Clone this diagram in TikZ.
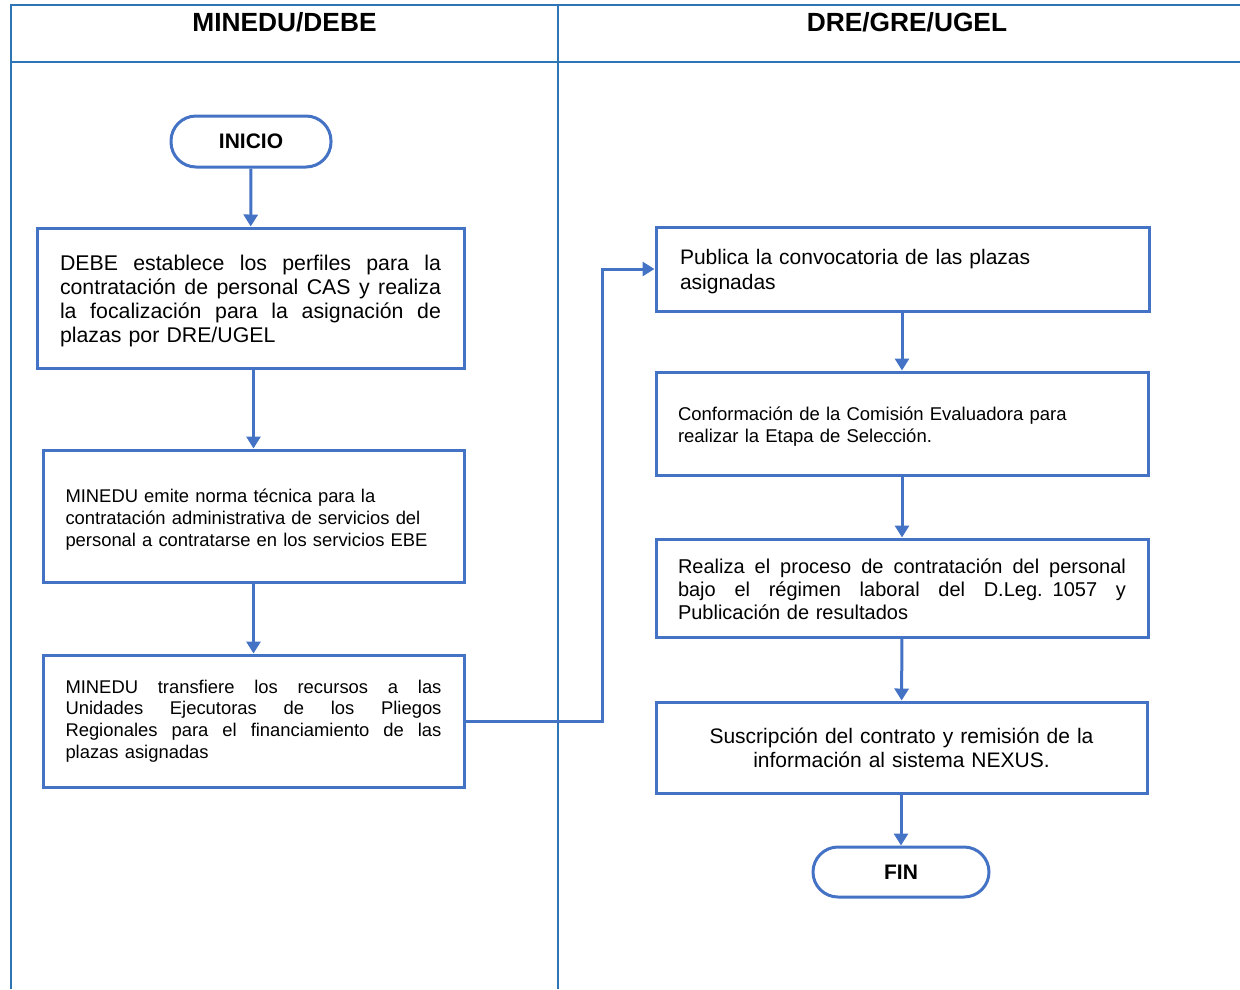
\documentclass[tikz,border=0pt]{standalone}
\usepackage{fontspec}
\setmainfont{Liberation Sans}
\usetikzlibrary{arrows.meta}
\definecolor{hdrblue}{HTML}{2E75B6}
\definecolor{boxblue}{HTML}{4472C4}
\newcommand{\jl}[2]{\leavevmode\hbox to #1{\spaceskip=0.28em plus 1fil\relax #2}}
\newcommand{\toppad}[1]{\leavevmode\rule{0pt}{#1}}
\tikzset{
  lane/.style={draw=hdrblue,line width=2.2pt},
  procbox/.style={draw=boxblue,line width=3pt,fill=white,rectangle,inner sep=0pt,align=left},
  termbox/.style={draw=boxblue,line width=3pt,fill=white,rectangle,rounded corners=25pt,inner sep=0pt,font=\fontsize{21}{24}\selectfont\bfseries},
  flow/.style={draw=boxblue,line width=3pt,-{Triangle[width=14pt,length=12pt]}},
  lanetitle/.style={anchor=base,font=\fontsize{26.3}{30}\selectfont\bfseries}
}
\begin{document}
\begin{tikzpicture}[x=1pt,y=-1pt]
\useasboundingbox (0,0) rectangle (1240,989);
% swimlane frame
\draw[lane] (11,989) -- (11,5) -- (1240,5);
\draw[lane] (11,62) -- (1240,62);
\draw[lane] (558,5) -- (558,989);
\node[lanetitle] (t1) at (284.5,31.5) {MINEDU/DEBE};
\node[lanetitle] (t2) at (907,31.5) {DRE/GRE/UGEL};
% left lane
\node[termbox,minimum width=160pt,minimum height=51pt] (ini) at (251,141.5) {INICIO};
\node[procbox,minimum width=427pt,minimum height=140pt,text width=381pt,
  font=\fontsize{21.3}{24}\selectfont] (b1) at (250.5,298) {\toppad{21.5pt}%
\jl{381pt}{DEBE establece los perfiles para la}\\
\jl{381pt}{contratación de personal CAS y realiza}\\
\jl{381pt}{la focalización para la asignación de}\\
plazas por DRE/UGEL};
\node[procbox,minimum width=421pt,minimum height=132pt,text width=376pt,
  font=\fontsize{18.4}{22}\selectfont] (b2) at (253.5,516) {\toppad{21pt}%
MINEDU emite norma técnica para la\\
contratación administrativa de servicios del\\
personal a contratarse en los servicios EBE};
\node[procbox,minimum width=421pt,minimum height=132pt,text width=376pt,
  font=\fontsize{18.4}{21.7}\selectfont] (b3) at (253.5,721) {%
\jl{376pt}{MINEDU transfiere los recursos a las}\\
\jl{376pt}{Unidades Ejecutoras de los Pliegos}\\
\jl{376pt}{Regionales para el financiamiento de las}\\
plazas asignadas};
% right lane
\node[procbox,minimum width=493pt,minimum height=84pt,text width=445pt,
  font=\fontsize{21}{25}\selectfont] (b4) at (902.5,269) {\toppad{21.3pt}%
Publica la convocatoria de las plazas\\
asignadas};
\node[procbox,minimum width=492pt,minimum height=103pt,text width=448pt,
  font=\fontsize{18.5}{22}\selectfont] (b5) at (902,423.5) {\toppad{19pt}%
Conformación de la Comisión Evaluadora para\\
realizar la Etapa de Selección.};
\node[procbox,minimum width=492pt,minimum height=98pt,text width=448pt,
  font=\fontsize{20}{23}\selectfont] (b6) at (902,588) {\toppad{16.5pt}%
\jl{448pt}{Realiza el proceso de contratación del personal}\\
\jl{448pt}{bajo el régimen laboral del D.Leg. 1057 y}\\
Publicación de resultados};
\node[procbox,minimum width=491pt,minimum height=91pt,text width=448pt,align=center,
  font=\fontsize{21}{24}\selectfont] (b7) at (901.5,747.5) {%
Suscripción del contrato y remisión de la\\
información al sistema NEXUS.};
\node[termbox,minimum width=176pt,minimum height=50pt] (fin) at (901,872) {FIN};
% connectors
\coordinate (xc) at (602,0);
\draw[flow] (ini) -- (b1);
\draw[flow] (b2.north |- b1.south) -- (b2.north);
\draw[flow] (b2) -- (b3);
\draw[flow] (b3.east) -- (b3.east -| xc) |- (b4.west);
\draw[flow] (b4.south -| b5.north) -- (b5.north);
\draw[flow] (b5) -- (b6);
\draw[flow] (b6) -- (b7);
\draw[flow] (b7.south -| fin.north) -- (fin.north);
\end{tikzpicture}
\end{document}
